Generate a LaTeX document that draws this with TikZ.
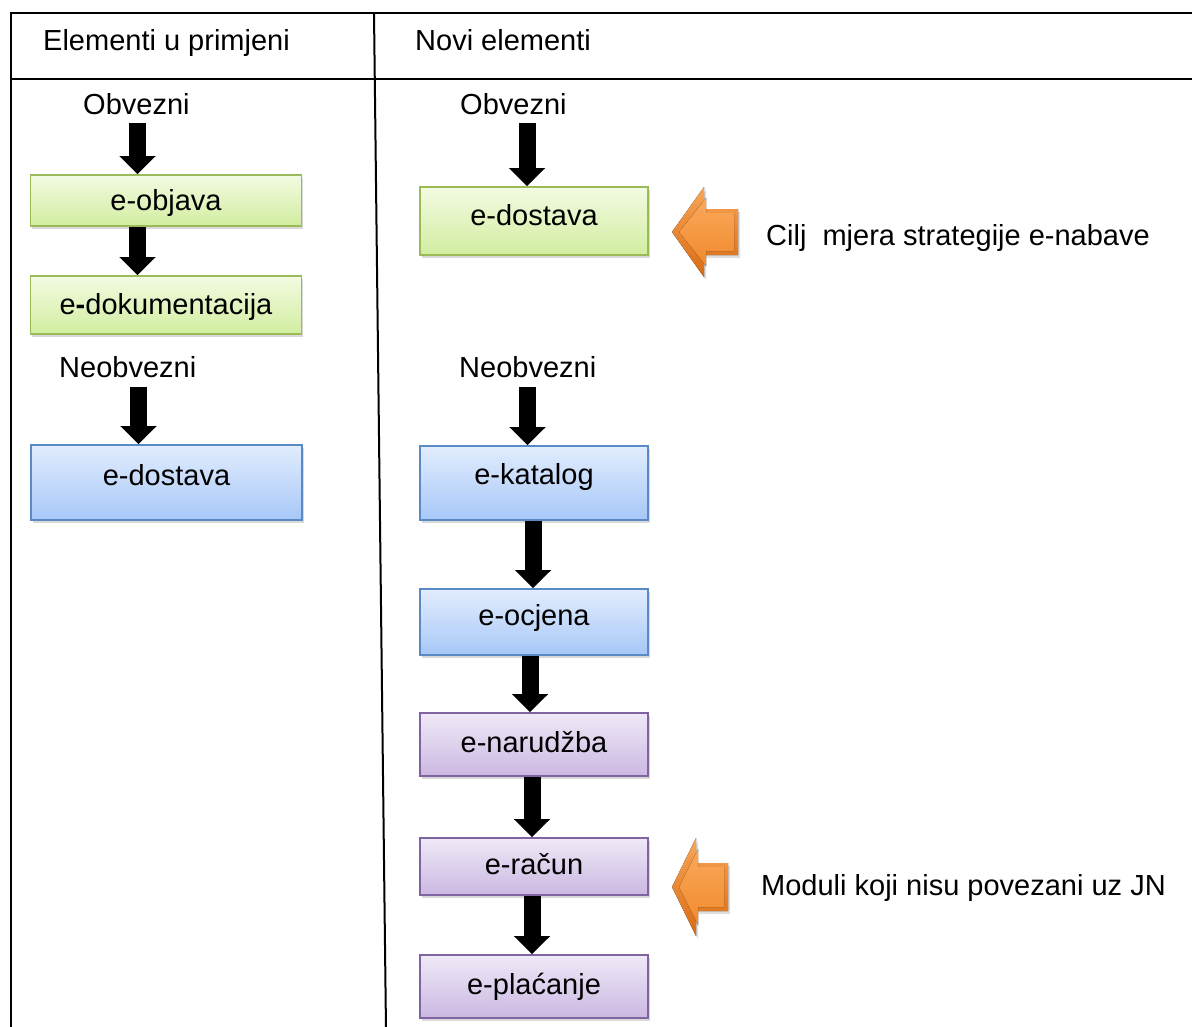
\documentclass[tikz,border=0pt]{standalone}
\usepackage{fontspec}
\setmainfont{Liberation Sans}
\usetikzlibrary{arrows.meta,shadows,calc}
\definecolor{grnB}{HTML}{9BBB59}
\definecolor{grnT}{HTML}{F3FBE2}
\definecolor{grnD}{HTML}{D2EDA0}
\definecolor{bluB}{HTML}{5A8AC6}
\definecolor{bluT}{HTML}{E2EDFD}
\definecolor{bluD}{HTML}{A7C7F8}
\definecolor{purB}{HTML}{8064A2}
\definecolor{purT}{HTML}{EFE9F7}
\definecolor{purD}{HTML}{CBB8E2}
\definecolor{orEdgeT}{HTML}{F9A657}
\definecolor{orEdgeB}{HTML}{D86A12}
\definecolor{orInT}{HTML}{FAA85C}
\definecolor{orInB}{HTML}{F08A2C}
\newcommand\OrangeArrow[6]{%
  \fill[drop shadow={opacity=0.25,shadow xshift=2pt,shadow yshift=-3pt},
        top color=orEdgeT, bottom color=orEdgeB]
    (#1,#2) -- (#3,#2-#4) -- (#3,#2-#6) -- (#5,#2-#6) -- (#5,#2+#6)
    -- (#3,#2+#6) -- (#3,#2+#4) -- cycle;
  \fill[top color=orInT, bottom color=orInB]
    (#1+7,#2) -- (#3+2,#2-#4+11) -- (#3+2,#2-#6+4) -- (#5-4,#2-#6+4)
    -- (#5-4,#2+#6-4) -- (#3+2,#2+#6-4) -- (#3+2,#2+#4-11) -- cycle;
}
\begin{document}
\begin{tikzpicture}[x=1pt,y=-1pt,
  every node/.style={font=\fontsize{29}{34}\selectfont},
  lbl/.style={anchor=base west, inner sep=0pt},
  tbl/.style={line width=2pt, black},
  box/.style={draw, line width=1.6pt, inner sep=0pt, text height=21pt, text depth=6pt,
    drop shadow={opacity=0.3, shadow xshift=1.5pt, shadow yshift=-3pt}},
  lbox/.style={box, minimum width=271pt},
  rbox/.style={box, minimum width=228pt},
  grn/.style={draw=grnB, top color=grnT, bottom color=grnD},
  blu/.style={draw=bluB, top color=bluT, bottom color=bluD},
  pur/.style={draw=purB, top color=purT, bottom color=purD},
  blk/.style={line width=17pt, black, -{Triangle[length=18pt,width=35pt]}}
]
\useasboundingbox (0,0) rectangle (1192,1026);
\begin{scope}
\clip (0,0) rectangle (1192,1026);
% table
\draw[tbl, line join=miter] (1195,13) -- (11,13) -- (11,1030);
\draw[tbl] (11,79) -- (1195,79);
\draw[tbl] (374,13) -- (386,1030);
\end{scope}

% headers
\node[lbl] (h1) at (43,50) {Elementi u primjeni};
\node[lbl] (h2) at (415,50) {Novi elementi};

% left column
\node[lbl] (ob1) at (83,114) {Obvezni};
\node[lbl] (neo1) at (59,377) {Neobvezni};
\node[lbox, grn, minimum height=51pt, text depth=1pt] (e1) at (166,200.5) {e-objava};
\node[lbox, grn, minimum height=58pt, text depth=2pt] (e2) at (166,305) {e\textbf{-}dokumentacija};
\node[lbox, blu, minimum height=75pt, text depth=16pt] (e3) at (166.5,482.5) {e-dostava};

\coordinate (a1) at (137.5,123);
\coordinate (a3) at (138.5,387);
\draw[blk] (a1) -- (a1 |- e1.north);
\draw[blk] (e1.south -| a1) -- (e2.north -| a1);
\draw[blk] (a3) -- (a3 |- e3.north);

% right column
\node[lbl] (ob2) at (460,114) {Obvezni};
\node[lbl] (neo2) at (459,377) {Neobvezni};
\node[rbox, grn, minimum height=68pt, text depth=12pt] (r1) at (534,221) {e-dostava};
\node[rbox, blu, minimum height=74pt, text depth=18pt] (r2) at (534,483) {e-katalog};
\node[rbox, blu, minimum height=66pt, text depth=14pt] (r3) at (534,622) {e-ocjena};
\node[rbox, pur, minimum height=63pt] (r4) at (534,744.5) {e-narudžba};
\node[rbox, pur, minimum height=57pt] (r5) at (534,866.5) {e-račun};
\node[rbox, pur, minimum height=63pt] (r6) at (534,986.5) {e-plaćanje};

\coordinate (b1) at (527,123);
\coordinate (b2) at (527.5,387);
\draw[blk] (b1) -- (b1 |- r1.north);
\draw[blk] (b2) -- (b2 |- r2.north);
\draw[blk] ($(r2.south)+(-1,0)$) -- ($(r3.north)+(-1,0)$);
\draw[blk] ($(r3.south)+(-4,0)$) -- ($(r4.north)+(-4,0)$);
\draw[blk] ($(r4.south)+(-2,0)$) -- ($(r5.north)+(-2,0)$);
\draw[blk] ($(r5.south)+(-2,0)$) -- ($(r6.north)+(-2,0)$);

% orange arrows and notes
\OrangeArrow{672}{232}{704}{45}{738}{23}
\OrangeArrow{672}{887}{696}{49}{728}{24}
\node[lbl] (n1) at (766,245) {Cilj\ \ mjera strategije e-nabave};
\node[lbl] (n2) at (761,895) {Moduli koji nisu povezani uz JN};
\end{tikzpicture}
\end{document}
